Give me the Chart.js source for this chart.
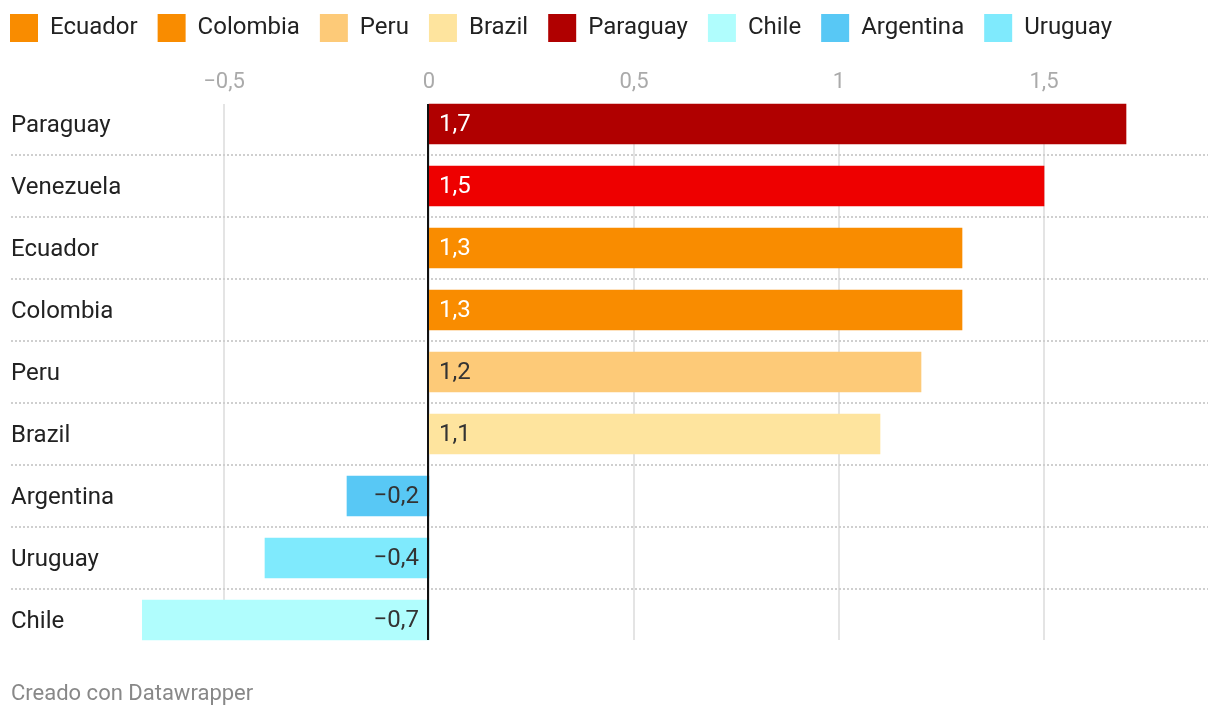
<!DOCTYPE html>
<html lang="es">
<head>
    <meta charset="UTF-8">
    <title>Sudamérica</title>
    <script src="https://cdn.jsdelivr.net/npm/chart.js"></script>
    <style>
        html, body { margin: 0; padding: 0; background: #fff; }
    </style>
</head>
<body>
<canvas id="myChart" width="1220" height="718"></canvas>

<script>
    const countries = ['Paraguay', 'Venezuela', 'Ecuador', 'Colombia', 'Peru', 'Brazil', 'Argentina', 'Uruguay', 'Chile'];
    const values = [1.7, 1.5, 1.3, 1.3, 1.2, 1.1, -0.2, -0.4, -0.7];
    const legendNames = ['Ecuador', 'Colombia', 'Peru', 'Brazil', 'Paraguay', 'Chile', 'Argentina', 'Uruguay'];
    const xTicks = [-0.5, 0, 0.5, 1, 1.5];

    const barColors = ['#b00000', '#ee0000', '#f98c00', '#f98c00', '#fdca78', '#fee49e', '#58c8f5', '#7feafd', '#b0fdfd'];
    const labelColors = ['#fff', '#fff', '#fff', '#fff', '#333', '#333', '#333', '#333', '#333'];

    const FONT = 'Roboto';
    const PLOT_TOP = 93;   // where the first row starts

    // 1.5 -> "1,5", -0.5 -> "−0,5"
    function fmt(v) {
        return (v < 0 ? '\u2212' : '') + String(Math.abs(v)).replace('.', ',');
    }

    const rowsPlugin = {
        id: 'rows',
        afterLayout(chart) {
            // legend starts at left + labels.padding, pull it back to the edge
            chart.legend.left = -10;
            chart.legend.top = -6;
        },
        beforeDatasetsDraw(chart) {
            const ctx = chart.ctx;
            const xs = chart.scales.x;
            const bars = chart.getDatasetMeta(0).data;
            const top = bars[0].y - bars[0].height / 2;
            const last = bars[bars.length - 1];
            const bottom = last.y + last.height / 2;

            ctx.save();
            ctx.strokeStyle = '#e4e4e4';
            ctx.lineWidth = 2;
            xTicks.forEach(v => {
                const x = Math.round(xs.getPixelForValue(v));
                ctx.beginPath();
                ctx.moveTo(x, top);
                ctx.lineTo(x, bottom);
                ctx.stroke();
            });

            ctx.strokeStyle = '#cfcfcf';
            ctx.setLineDash([2, 2]);
            for (let i = 0; i < bars.length - 1; i++) {
                const y = Math.round((bars[i].y + bars[i + 1].y) / 2);
                ctx.beginPath();
                ctx.moveTo(11, y);
                ctx.lineTo(chart.chartArea.right, y);
                ctx.stroke();
            }
            ctx.restore();
        },
        afterDatasetsDraw(chart) {
            const ctx = chart.ctx;
            const xs = chart.scales.x;
            const bars = chart.getDatasetMeta(0).data;
            const top = bars[0].y - bars[0].height / 2;
            const last = bars[bars.length - 1];
            const bottom = last.y + last.height / 2;

            ctx.save();
            const x0 = xs.getPixelForValue(0);
            ctx.strokeStyle = '#111';
            ctx.lineWidth = 2;
            ctx.beginPath();
            ctx.moveTo(x0 - 1, top);
            ctx.lineTo(x0 - 1, bottom);
            ctx.stroke();

            ctx.font = '24px ' + FONT;
            ctx.textBaseline = 'middle';
            bars.forEach((bar, i) => {
                const v = values[i];
                ctx.fillStyle = labelColors[i];
                if (v >= 0) {
                    ctx.textAlign = 'left';
                    ctx.fillText(fmt(v), bar.base + 10, bar.y + 1);
                } else {
                    ctx.textAlign = 'right';
                    ctx.fillText(fmt(v), bar.base - 10, bar.y + 1);
                }
            });
            ctx.restore();
        }
    };

    const ctx = document.getElementById('myChart').getContext('2d');

    new Chart(ctx, {
        type: 'bar',
        data: {
            labels: countries,
            datasets: [{
                label: 'valor',
                data: values,
                backgroundColor: barColors,
                borderWidth: 0,
                barThickness: 40
            }]
        },
        options: {
            indexAxis: 'y',
            responsive: false,
            animation: false,
            layout: { padding: { left: 11, right: 12, top: 0, bottom: 0 } },
            scales: {
                x: {
                    position: 'top',
                    min: -0.7,
                    max: 1.9,
                    grid: { display: false, drawTicks: false },
                    border: { display: false },
                    afterBuildTicks: scale => { scale.ticks = xTicks.map(v => ({ value: v })); },
                    afterFit: scale => { scale.height = PLOT_TOP - scale.chart.legend.height; },
                    ticks: {
                        font: { family: FONT, size: 22 },
                        color: '#aaa',
                        padding: -3,
                        callback: v => fmt(v)
                    }
                },
                y: {
                    grid: { display: false },
                    border: { display: false },
                    afterFit: scale => { scale.width = 131; },
                    ticks: {
                        crossAlign: 'far',
                        font: { family: FONT, size: 24 },
                        color: '#222',
                        padding: 0,
                        labelOffset: 1.5
                    }
                }
            },
            plugins: {
                tooltip: { enabled: false },
                legend: {
                    position: 'top',
                    align: 'start',
                    onClick: () => {},
                    labels: {
                        boxWidth: 28,
                        boxHeight: 28,
                        padding: 20,
                        color: '#222',
                        font: { family: FONT, size: 24 },
                        generateLabels: () => legendNames.map(name => ({
                            text: name,
                            fillStyle: barColors[countries.indexOf(name)],
                            strokeStyle: 'rgba(0,0,0,0)',
                            lineWidth: 0,
                            hidden: false,
                            fontColor: '#222'
                        }))
                    }
                },
                title: {
                    display: true,
                    text: 'Creado con Datawrapper',
                    position: 'bottom',
                    align: 'start',
                    color: '#888',
                    font: { family: FONT, size: 22, weight: 'normal' },
                    padding: { top: 30, bottom: 10.6 }
                }
            }
        },
        plugins: [rowsPlugin]
    });
</script>
</body>
</html>
